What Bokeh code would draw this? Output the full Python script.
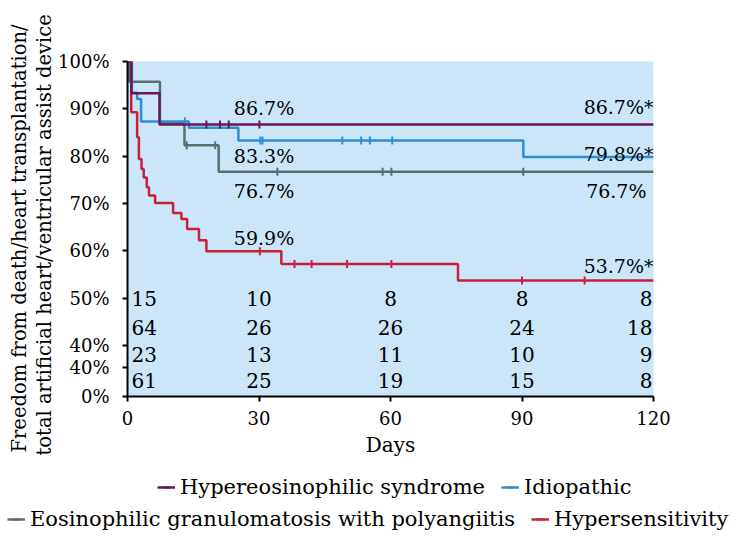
import math
from bokeh.plotting import figure
from bokeh.layouts import column
from bokeh.models import Range1d, FixedTicker, Title, Legend, LegendItem
from bokeh.core.properties import value
from bokeh.embed import file_html
from bokeh.resources import INLINE

# ---------------- data ----------------
groups = ["Hypereosinophilic syndrome", "Idiopathic",
          "Eosinophilic granulomatosis with polyangiitis", "Hypersensitivity"]

hes_days = [0, 0.9, 7.3]
hes_surv = [100, 93.3, 86.7]
hes_censor = [18.0, 21.1, 23.1, 30.1]

idio_days = [0, 1.0, 2.2, 3.1, 14.0, 25.3, 90.3]
idio_surv = [100, 93.4, 92.1, 87.3, 86.0, 83.3, 79.8]
idio_censor = [13.1, 30.3, 30.8, 49.0, 53.3, 55.3, 60.4]

egpa_days = [0, 0.4, 7.4, 13.0, 20.8]
egpa_surv = [100, 95.7, 87.0, 82.3, 76.7]
egpa_censor = [13.5, 20.0, 34.2, 58.2, 60.2, 90.3]

hyp_days = [0, 0.85, 2.2, 2.6, 3.2, 3.7, 4.4, 4.9, 6.3, 10.4, 12.3, 13.6, 16.3, 18.0, 35.1, 75.4]
hyp_surv = [100, 89.3, 84.0, 79.4, 77.3, 75.5, 73.4, 71.7, 70.1, 68.0, 66.7, 64.6, 62.2, 59.9, 57.2, 53.7]
hyp_censor = [30.2, 38.1, 42.0, 50.1, 60.2, 90.0, 104.3]

risk_days = [0, 30, 60, 90, 120]
risk_hes = [15, 10, 8, 8, 8]
risk_idio = [64, 26, 26, 24, 18]
risk_egpa = [23, 13, 11, 10, 9]
risk_hyp = [61, 25, 19, 15, 8]

labels_30 = ["86.7%", "83.3%", "76.7%", "59.9%"]
labels_120 = ["86.7%*", "79.8%*", "76.7%", "53.7%*"]

x_ticks = [0, 30, 60, 90, 120]
y_tick_labels = ["100%", "90%", "80%", "70%", "60%", "50%", "40%", "40%", "0%"]
y_title = ["Freedom from death/heart transplantation/",
           "total artificial heart/ventricular assist device"]

# ---------------- layout / style ----------------
FONT = "DejaVu Serif"
FS = "20px"
TICK_FS = "18px"
LAB_FS = "19px"
TITLE_FS = "19.5px"
LEG_FS = "21px"
colors = ["#6b1656", "#2f8fd6", "#5a6e70", "#c8203c"]
y_tick_pos = [100, 90, 80, 70, 60, 50, 40, 35.4, 29.2]
risk_row_y = [50.0, 43.8, 38.1, 32.6]
lab30_y = [90.2, 80.1, 72.7, 62.6]
lab120_y = [90.3, 80.5, 72.7, 56.7]
lab120_dx = [0, 0, -7, 0]
title_offset = [-56, -59]
legend_loc = [(157, 41), (7, 9)]

W = 756
p = figure(width=W, height=460, x_range=Range1d(0, 120), y_range=Range1d(29.2, 100),
           output_backend="svg", toolbar_location=None,
           min_border_left=127, min_border_right=103, min_border_top=61, min_border_bottom=64)
p.xgrid.visible = False
p.ygrid.visible = False
p.background_fill_color = "#cae6f8"
p.border_fill_color = "white"
p.outline_line_color = None

for ax in (p.xaxis[0], p.yaxis[0]):
    ax.axis_line_color = "black"
    ax.axis_line_width = 2
    ax.major_tick_line_color = "black"
    ax.major_tick_line_width = 2
    ax.major_tick_out = 5
    ax.major_tick_in = 0
    ax.minor_tick_out = 0
    ax.minor_tick_in = 0
    ax.major_label_text_font = FONT
    ax.major_label_text_font_size = TICK_FS
    ax.major_label_text_color = "black"

p.xaxis.ticker = FixedTicker(ticks=x_ticks)
p.xaxis.major_label_standoff = 9
p.xaxis.axis_label = "Days"
p.xaxis.axis_label_text_font = FONT
p.xaxis.axis_label_text_font_size = FS
p.xaxis.axis_label_text_font_style = "normal"
p.xaxis.axis_label_text_color = "black"
p.xaxis.axis_label_standoff = 5

p.yaxis.ticker = FixedTicker(ticks=y_tick_pos)
p.yaxis.major_label_overrides = {pos: lab for pos, lab in zip(y_tick_pos, y_tick_labels)}
p.yaxis.major_label_standoff = 13

for k in (1, 0):
    p.add_layout(Title(text=y_title[k], align="left", text_font=FONT, text_font_size=TITLE_FS,
                       text_font_style="normal", text_color="black", standoff=0,
                       offset=title_offset[k]), "left")


def surv_at(days, surv, d):
    v = surv[0]
    for dd, ss in zip(days, surv):
        if dd <= d:
            v = ss
    return v


series = [(hes_days, hes_surv, hes_censor), (idio_days, idio_surv, idio_censor),
          (egpa_days, egpa_surv, egpa_censor), (hyp_days, hyp_surv, hyp_censor)]
draw_order = [3, 2, 1, 0]
for i in draw_order:
    d, s, c = series[i]
    xs = list(d) + [x_ticks[-1]]
    ys = list(s) + [s[-1]]
    p.step(x=xs, y=ys, mode="after", line_color=colors[i], line_width=2.5)
    cy = [surv_at(d, s, cd) for cd in c]
    p.scatter(x=c, y=cy, marker="dash", angle=math.pi / 2, size=8,
              line_color=colors[i], line_width=2)

# risk table
for row, vals in enumerate([risk_hes, risk_idio, risk_egpa, risk_hyp]):
    yv = risk_row_y[row]
    p.text(x=risk_days[:1], y=[yv], text=[str(v) for v in vals[:1]], text_font=value(FONT),
           text_font_size=value(FS), text_align="left", text_baseline="middle", x_offset=4)
    p.text(x=risk_days[1:-1], y=[yv] * (len(vals) - 2), text=[str(v) for v in vals[1:-1]],
           text_font=value(FONT), text_font_size=value(FS), text_align="center",
           text_baseline="middle")
    p.text(x=risk_days[-1:], y=[yv], text=[str(v) for v in vals[-1:]], text_font=value(FONT),
           text_font_size=value(FS), text_align="right", text_baseline="middle", x_offset=-1)

# survival labels
p.text(x=[risk_days[1]] * 4, y=lab30_y, text=labels_30, text_font=value(FONT),
       text_font_size=value(LAB_FS), text_align="center", text_baseline="middle", x_offset=5)
for k in range(4):
    p.text(x=[risk_days[-1]], y=[lab120_y[k]], text=[labels_120[k]], text_font=value(FONT),
           text_font_size=value(LAB_FS), text_align="right", text_baseline="middle",
           x_offset=lab120_dx[k])

# ---------------- legend strip ----------------
lg = figure(width=W, height=80, x_range=Range1d(0, 1), y_range=Range1d(0, 1),
            output_backend="svg", toolbar_location=None, x_axis_type=None, y_axis_type=None,
            min_border=0, min_border_left=0, min_border_right=0, min_border_top=0,
            min_border_bottom=0)
lg.outline_line_color = None
lg.xgrid.visible = False
lg.ygrid.visible = False
for fig in (p, lg):
    try:
        fig.frame_align = False
    except Exception:
        pass

items = []
for i in range(4):
    d, s, c = series[i]
    # same series drawn in the strip (outside its visible range) to provide legend glyphs
    lr = lg.step(x=list(d), y=list(s), mode="after", line_color=colors[i], line_width=2.5)
    sr = lg.scatter(x=c, y=[surv_at(d, s, cd) for cd in c], marker="dash", angle=math.pi / 2,
                    size=8, line_color=colors[i], line_width=2)
    items.append(LegendItem(label=groups[i], renderers=[lr, sr]))

leg_style = dict(orientation="horizontal", border_line_color=None,
                 background_fill_alpha=0, label_text_font=FONT, label_text_font_size=LEG_FS,
                 label_text_color="black",
                 glyph_width=18, glyph_height=22, label_height=22, spacing=16,
                 label_standoff=5, padding=0, margin=0)
lg.add_layout(Legend(items=items[:2], location=legend_loc[0], **leg_style))
lg.add_layout(Legend(items=items[2:], location=legend_loc[1], **leg_style))

layout = column(p, lg, spacing=0)
open("out.html", "w").write(file_html(layout, INLINE))
